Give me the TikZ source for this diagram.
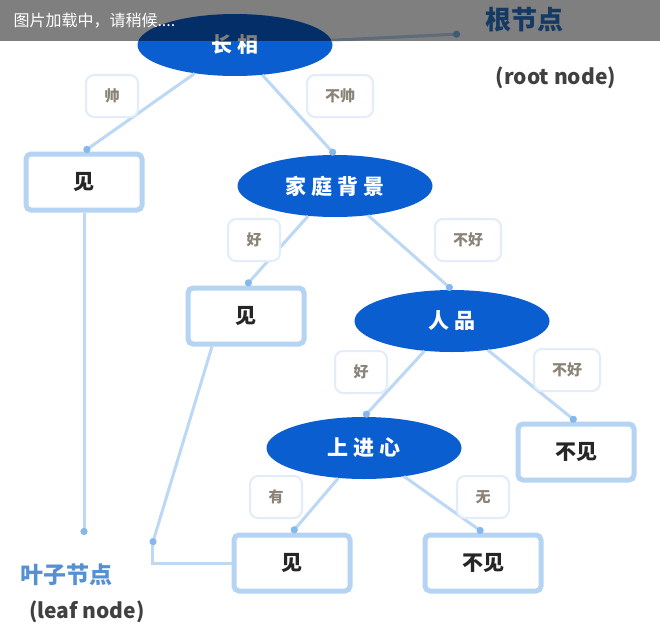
\documentclass[tikz,border=0pt]{standalone}
\usepackage{fontspec}
\setmainfont{Noto Sans CJK SC}
\usetikzlibrary{arrows.meta,shapes.geometric}
\definecolor{nodeblue}{HTML}{0A5ECF}
\definecolor{leafborder}{HTML}{B5D4F4}
\definecolor{lblborder}{HTML}{E2EDF9}
\definecolor{edgeblue}{HTML}{BCD8F5}
\definecolor{tipblue}{HTML}{86B8EC}
\definecolor{annotblue}{HTML}{2A74C8}
\definecolor{lbltext}{HTML}{8A8478}
\tikzset{
  decision/.style={ellipse, fill=nodeblue, text=white, minimum width=195pt, minimum height=62pt, inner sep=0pt, font=\fontsize{21}{21}\selectfont\bfseries},
  leaf/.style={draw=leafborder, line width=5pt, rounded corners=5pt, fill=white, minimum width=116pt, minimum height=56pt, font=\fontsize{21}{21}\selectfont\bfseries, text=black!85},
  elabel/.style={draw=lblborder, line width=2pt, rounded corners=8pt, fill=white, text=lbltext, font=\fontsize{15}{15}\selectfont\bfseries, minimum width=52pt, minimum height=42pt, inner xsep=18pt},
  treeedge/.style={draw=edgeblue, line width=3pt, -{Circle[length=7pt,color=tipblue]}},
  annot/.style={draw=edgeblue, line width=3pt, -{Circle[length=7pt,color=tipblue]}},
  annotplain/.style={draw=edgeblue, line width=3pt}
}
\newcommand{\gp}{\hspace{5pt}}
\begin{document}
\begin{tikzpicture}[x=1pt,y=-1pt]
\useasboundingbox (0,0) rectangle (660,634);
\fill[white] (0,0) rectangle (660,634);

% decision nodes
\node[decision] (root) at (235,45) {长\gp 相};
\node[decision] (fam) at (335,186) {家\gp 庭\gp 背\gp 景};
\node[decision] (ren) at (452,321) {人\gp 品};
\node[decision] (sjx) at (364,448) {上\gp 进\gp 心};

% leaves
\node[leaf] (leafA) at (84,182) {见};
\node[leaf] (leafB) at (246,316) {见};
\node[leaf] (leafC) at (576,452) {不见};
\node[leaf] (leafD) at (292,563) {见};
\node[leaf] (leafE) at (483,563) {不见};

% edges
\draw[treeedge] (root) -- (leafA.north);
\draw[treeedge] (root) -- (fam.north);
\draw[treeedge] (fam) -- (leafB.north);
\draw[treeedge] (fam) -- (ren.north);
\draw[treeedge] (ren) -- (sjx.north);
\draw[treeedge] (ren) -- (leafC.north);
\draw[treeedge] (sjx) -- (leafD.north);
\draw[treeedge] (sjx) -- (leafE.north);

% edge labels
\node[elabel] (lA) at (112,96) {帅};
\node[elabel] (lB) at (340,96) {不帅};
\node[elabel] (lC) at (254,240) {好};
\node[elabel] (lD) at (468,240) {不好};
\node[elabel] (lE) at (361,372) {好};
\node[elabel] (lF) at (567,370) {不好};
\node[elabel] (lG) at (276,497) {有};
\node[elabel] (lH) at (483,497) {无};

% annotations
\node[text=annotblue, font=\fontsize{26}{26}\selectfont\bfseries] (rootname) at (524,20) {根节点};
\node[text=black!75, font=\fontsize{21}{21}\selectfont\bfseries] (rooten) at (556,78) {(root node)};
\node[text=annotblue!80, font=\fontsize{23}{23}\selectfont\bfseries] (leafname) at (66,575) {叶子节点};
\node[text=black!75, font=\fontsize{21}{21}\selectfont\bfseries] (leafen) at (87,612) {(leaf node)};

\coordinate (rootTip) at (460,34);
\coordinate (leafTip1) at (84,535);
\coordinate (leafTip2) at (152,545);
\draw[annot] (root) -- (rootTip);
\draw[annot] (leafA.south) -- (leafTip1);
\draw[annot] ([xshift=-34pt]leafB.south) -- (leafTip2);
\draw[annotplain] (leafD.west) -| (leafTip2);

% loading overlay bar
\fill[black, opacity=0.5] (0,0) rectangle (660,41);
\node[anchor=west, text=white, font=\fontsize{16}{16}\selectfont] (loading) at (10,21) {图片加载中，请稍候....};
\end{tikzpicture}
\end{document}
